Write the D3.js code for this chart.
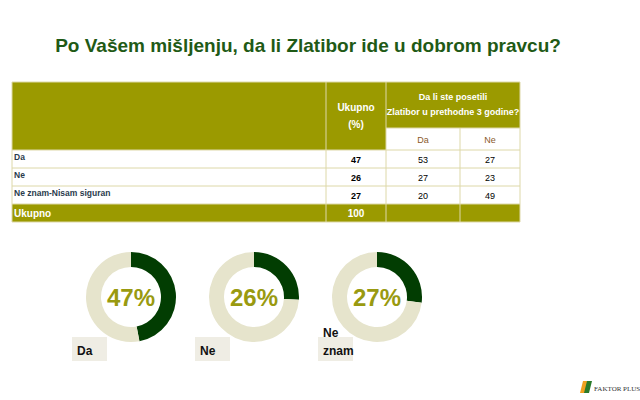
<!DOCTYPE html>
<html><head><meta charset="utf-8">
<script src="https://cdn.jsdelivr.net/npm/d3@7"></script>
<style>body{margin:0;background:#fff}svg{font-family:"Liberation Sans",Arial,sans-serif}</style>
</head><body><svg width="640" height="400"></svg>
<script>
const rowLabels = ["Da", "Ne", "Ne znam-Nisam siguran"];
const totals = [47, 26, 27];
const visitedDa = [53, 27, 20];
const visitedNe = [27, 23, 49];
const donutLabels = [["Da"], ["Ne"], ["Ne", "znam"]];

const olive = "#9b9a00", dark = "#023d02", light = "#e6e4cc", text = "#2a3b4c";
const svg = d3.select("svg");

svg.append("text").attr("x", 308).attr("y", 52).attr("text-anchor", "middle")
  .attr("font-size", 19).attr("font-weight", "bold").attr("fill", "#1f5a16")
  .text("Po Vašem mišljenju, da li Zlatibor ide u dobrom pravcu?");

// table
const cols = [12, 326, 386, 460, 520];
const rowY = d3.scaleBand().domain(d3.range(4)).range([150, 222]);
const g = svg.append("g");
g.append("rect").attr("x", 12).attr("y", 82).attr("width", 508).attr("height", 68).attr("fill", olive);
g.append("rect").attr("x", 386).attr("y", 128).attr("width", 134).attr("height", 22).attr("fill", "#fff");
g.append("rect").attr("x", 12).attr("y", rowY(3)).attr("width", 508).attr("height", rowY.bandwidth()).attr("fill", olive);
const lines = g.append("g").attr("stroke", "#ddd8a8").attr("stroke-width", 1);
[150, 168, 186, 204, 222].forEach(y => lines.append("line").attr("x1", 12).attr("x2", 520).attr("y1", y).attr("y2", y));
lines.append("line").attr("x1", 386).attr("x2", 520).attr("y1", 128).attr("y2", 128);
cols.forEach(x => lines.append("line").attr("x1", x).attr("x2", x).attr("y1", x == 460 ? 128 : 82).attr("y2", 222));
lines.append("line").attr("x1", 12).attr("x2", 520).attr("y1", 82).attr("y2", 82);

const hdr = g.append("g").attr("fill", "#fff").attr("font-weight", "bold").attr("font-size", 10).attr("text-anchor", "middle");
hdr.append("text").attr("x", 356).attr("y", 111).text("Ukupno");
hdr.append("text").attr("x", 356).attr("y", 128).text("(%)");
hdr.append("text").attr("x", 453).attr("y", 100).attr("font-size", 9).text("Da li ste posetili");
hdr.append("text").attr("x", 453).attr("y", 115).attr("font-size", 9).text("Zlatibor u prethodne 3 godine?");
g.append("text").attr("x", 423).attr("y", 143).attr("text-anchor", "middle").attr("font-size", 9).attr("fill", "#8a5a2a").text("Da");
g.append("text").attr("x", 490).attr("y", 143).attr("text-anchor", "middle").attr("font-size", 9).attr("fill", "#8a5a2a").text("Ne");

rowLabels.forEach((l, i) => {
  const y = rowY(i) + 12;
  g.append("text").attr("x", 14).attr("y", y - 2).attr("font-size", 8.5).attr("font-weight", "bold").attr("fill", text).text(l);
  g.append("text").attr("x", 356).attr("y", y + 1).attr("text-anchor", "middle").attr("font-size", 9).attr("font-weight", "bold").text(totals[i]);
  g.append("text").attr("x", 423).attr("y", y + 1).attr("text-anchor", "middle").attr("font-size", 9).text(visitedDa[i]);
  g.append("text").attr("x", 490).attr("y", y + 1).attr("text-anchor", "middle").attr("font-size", 9).text(visitedNe[i]);
});
g.append("text").attr("x", 14).attr("y", rowY(3) + 13).attr("font-size", 10).attr("font-weight", "bold").attr("fill", "#fff").text("Ukupno");
g.append("text").attr("x", 356).attr("y", rowY(3) + 13).attr("text-anchor", "middle").attr("font-size", 10).attr("font-weight", "bold").attr("fill", "#fff").text("100");

// donuts
const cx = d3.scalePoint().domain(d3.range(3)).range([131, 377]);
const pie = d3.pie().sort(null);
const arc = d3.arc().innerRadius(30).outerRadius(45);
totals.forEach((v, i) => {
  const dg = svg.append("g").attr("transform", `translate(${cx(i)},297)`);
  dg.selectAll("path").data(pie([v, 100 - v])).join("path")
    .attr("d", arc).attr("fill", (d, j) => j == 0 ? dark : light);
  dg.append("text").attr("y", 9).attr("text-anchor", "middle").attr("font-size", 24).attr("font-weight", "bold")
    .attr("fill", "#999a10").text(v + "%");
  const lb = donutLabels[i];
  const bx = cx(i) - 59;
  svg.append("rect").attr("x", bx).attr("y", 337).attr("width", 35).attr("height", 24).attr("fill", "#efede4");
  lb.forEach((t, k) => svg.append("text").attr("x", bx + 5).attr("y", 355 - (lb.length - 1 - k) * 18)
    .attr("font-size", 12).attr("font-weight", "bold").attr("fill", "#111").text(t));
});

// logo
svg.append("path").attr("d", "M580,393 L583,381 L588,381 L585,393 Z").attr("fill", "#f0a020");
svg.append("path").attr("d", "M584,393 L587,381 L592,381 L589,393 Z").attr("fill", "#2a7a2a");
svg.append("text").attr("x", 594).attr("y", 391).attr("font-size", 7).attr("font-family", "Liberation Serif").attr("fill", "#333").text("FAKTOR PLUS");
</script></body></html>
